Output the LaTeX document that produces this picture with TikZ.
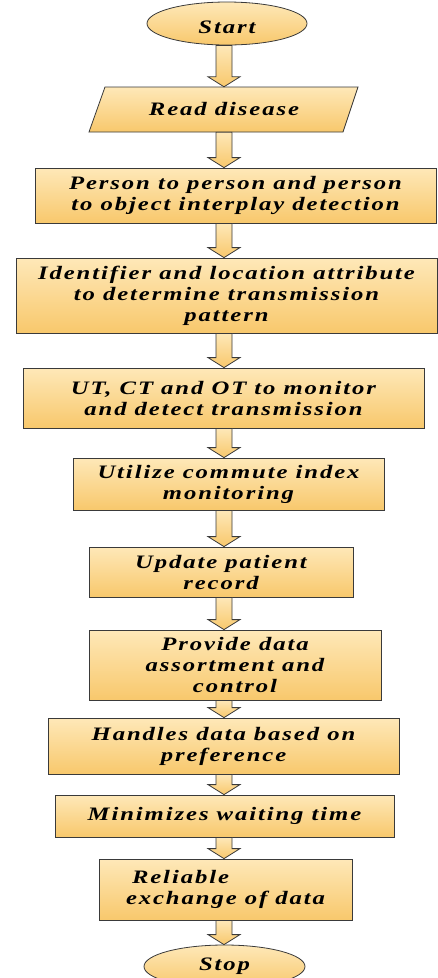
\documentclass[tikz,border=0pt]{standalone}
\usepackage{fontspec}
\setmainfont{Liberation Serif}[FakeStretch=1.3,LetterSpace=10]
\usetikzlibrary{calc,shapes.geometric}
\definecolor{topc}{HTML}{FEE8B8}
\definecolor{botc}{HTML}{F8C86C}
\definecolor{edge}{HTML}{3A3A3A}
\tikzset{
  fillsty/.style={top color=topc,bottom color=botc,draw=edge,line width=0.8pt},
  lbl/.style={inner sep=0pt,align=center,font=\fontsize{19}{21}\selectfont\bfseries\itshape},
  box/.style={fillsty,lbl,rectangle},
  term/.style={fillsty,lbl,ellipse},
}
\newcommand{\barrow}[2]{%
  \path[fillsty] let \p1=(#1.south), \p2=(#2.north) in
    (216pt,\y1) -- (216pt,\y2+10pt) -- (208pt,\y2+10pt) -- (224pt,\y2)
    -- (240pt,\y2+10pt) -- (232pt,\y2+10pt) -- (232pt,\y1) -- cycle;}
\begin{document}
\begin{tikzpicture}[x=1pt,y=1pt]
\useasboundingbox (0,0) rectangle (438,-978);
\clip (0,0) rectangle (438,-978);
\node[term,minimum width=160pt,minimum height=43pt] (start) at (227,-23.5) {\raisebox{-10pt}[0pt][0pt]{Start}};
\shade[fillsty] (105,-87) -- (358,-87) -- (343,-132) -- (89,-132) -- cycle;
\node[lbl,minimum width=200pt,minimum height=45pt] (read) at (224,-109.5) {Read disease};
\node[box,minimum width=401pt,minimum height=55pt] (p2p) at (235.5,-195.5) {Person to person and person\\to object interplay detection};
\node[box,minimum width=421pt,minimum height=75pt] (ident) at (226.5,-295.5) {Identifier and location attribute\\to determine transmission\\pattern};
\node[box,minimum width=401pt,minimum height=60pt] (ut) at (223.5,-398) {UT, CT and OT to monitor\\and detect transmission};
\node[box,minimum width=311pt,minimum height=52pt] (util) at (228.5,-484) {Utilize commute index\\monitoring};
\node[box,minimum width=264pt,minimum height=50pt] (update) at (221,-572) {Update patient\\record};
\node[box,minimum width=292pt,minimum height=70pt] (provide) at (235,-665) {Provide data\\assortment and\\control};
\node[box,align=left,minimum width=253pt,minimum height=61pt] (reliable) at (225.5,-889.5) {\hspace{6pt}Reliable\\exchange of data\hspace{12pt}};
\node[box,minimum width=351pt,minimum height=56pt] (handles) at (223.5,-746) {Handles data based on\\preference};
\node[box,minimum width=339pt,minimum height=42pt] (minim) at (224.5,-816) {Minimizes waiting time};
\node[term,minimum width=161pt,minimum height=43pt] (stop) at (224.5,-966.5) {Stop};
\barrow{start}{read}
\barrow{read}{p2p}
\barrow{p2p}{ident}
\barrow{ident}{ut}
\barrow{ut}{util}
\barrow{util}{update}
\barrow{update}{provide}
\barrow{provide}{handles}
\barrow{handles}{minim}
\barrow{minim}{reliable}
\barrow{reliable}{stop}
\end{tikzpicture}
\end{document}
